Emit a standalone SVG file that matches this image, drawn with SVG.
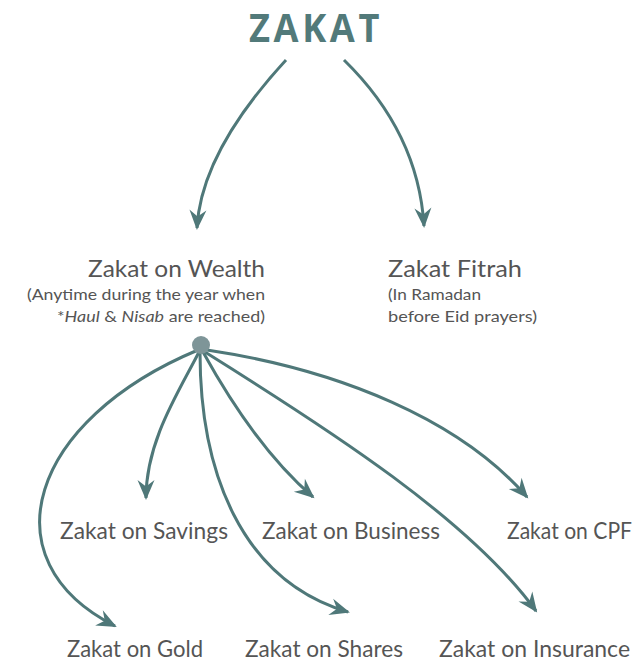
<svg xmlns="http://www.w3.org/2000/svg" width="639" height="662" viewBox="0 0 639 662">
<style>
.c{fill:none;stroke:#4f7879;stroke-width:3;marker-end:url(#ah)}
.t{font-family:Lato,"Open Sans",sans-serif;fill:#555}
.l{font-size:22.5px}
.s{font-size:16px}
.title{font-family:"Open Sans",Lato,sans-serif;font-weight:bold;font-size:40px;fill:#527a7a;letter-spacing:4px}
</style>
<defs>
<marker id="ah" markerUnits="userSpaceOnUse" markerWidth="26" markerHeight="22" viewBox="-22 -11 26 22" refX="-1" refY="0" orient="auto">
<path d="M1,0 L-19,-8.5 L-12.5,0 L-19,8.5 Z" fill="#4f7879"/>
</marker>
</defs>
<g id="connectors">
<path class="c" d="M286,60 C240,110 200,170 197,228"/>
<path class="c" d="M344,60 C390,105 420,160 424,226"/>
<path class="c" d="M198,350 C30,420 -15,560 115,626"/>
<path class="c" d="M200,350 C180,390 146,440 146,498"/>
<path class="c" d="M200,352 C200,470 240,580 348,612"/>
<path class="c" d="M203,352 C235,410 270,460 313,497"/>
<path class="c" d="M205,352 C330,430 470,520 536,611"/>
<path class="c" d="M207,350 C340,370 460,420 527,497"/>
</g>
<g id="zakat"><text class="title" x="316" y="42" text-anchor="middle" textLength="134" lengthAdjust="spacingAndGlyphs">ZAKAT</text></g>
<g id="wealth">
<text class="t l" x="265" y="277" text-anchor="end" textLength="177" lengthAdjust="spacingAndGlyphs">Zakat on Wealth</text>
<text class="t s" x="265" y="300" text-anchor="end" textLength="238" lengthAdjust="spacingAndGlyphs">(Anytime during the year when</text>
<text class="t s" x="265" y="322" text-anchor="end" textLength="208" lengthAdjust="spacingAndGlyphs">*<tspan font-style="italic">Haul</tspan> &amp; <tspan font-style="italic">Nisab</tspan> are reached)</text>
<circle cx="201" cy="345" r="9" fill="#7e9598"/>
</g>
<g id="fitrah">
<text class="t l" x="388" y="277" textLength="134" lengthAdjust="spacingAndGlyphs">Zakat Fitrah</text>
<text class="t s" x="388" y="300" textLength="93" lengthAdjust="spacingAndGlyphs">(In Ramadan</text>
<text class="t s" x="388" y="322" textLength="149" lengthAdjust="spacingAndGlyphs">before Eid prayers)</text>
</g>
<g id="savings"><text class="t l" x="60" y="539" textLength="168" lengthAdjust="spacingAndGlyphs">Zakat on Savings</text></g>
<g id="business"><text class="t l" x="262" y="539" textLength="178" lengthAdjust="spacingAndGlyphs">Zakat on Business</text></g>
<g id="cpf"><text class="t l" x="507" y="539" textLength="125" lengthAdjust="spacingAndGlyphs">Zakat on CPF</text></g>
<g id="gold"><text class="t l" x="67" y="657" textLength="136" lengthAdjust="spacingAndGlyphs">Zakat on Gold</text></g>
<g id="shares"><text class="t l" x="245" y="657" textLength="158" lengthAdjust="spacingAndGlyphs">Zakat on Shares</text></g>
<g id="insurance"><text class="t l" x="439" y="657" textLength="191" lengthAdjust="spacingAndGlyphs">Zakat on Insurance</text></g>
</svg>
